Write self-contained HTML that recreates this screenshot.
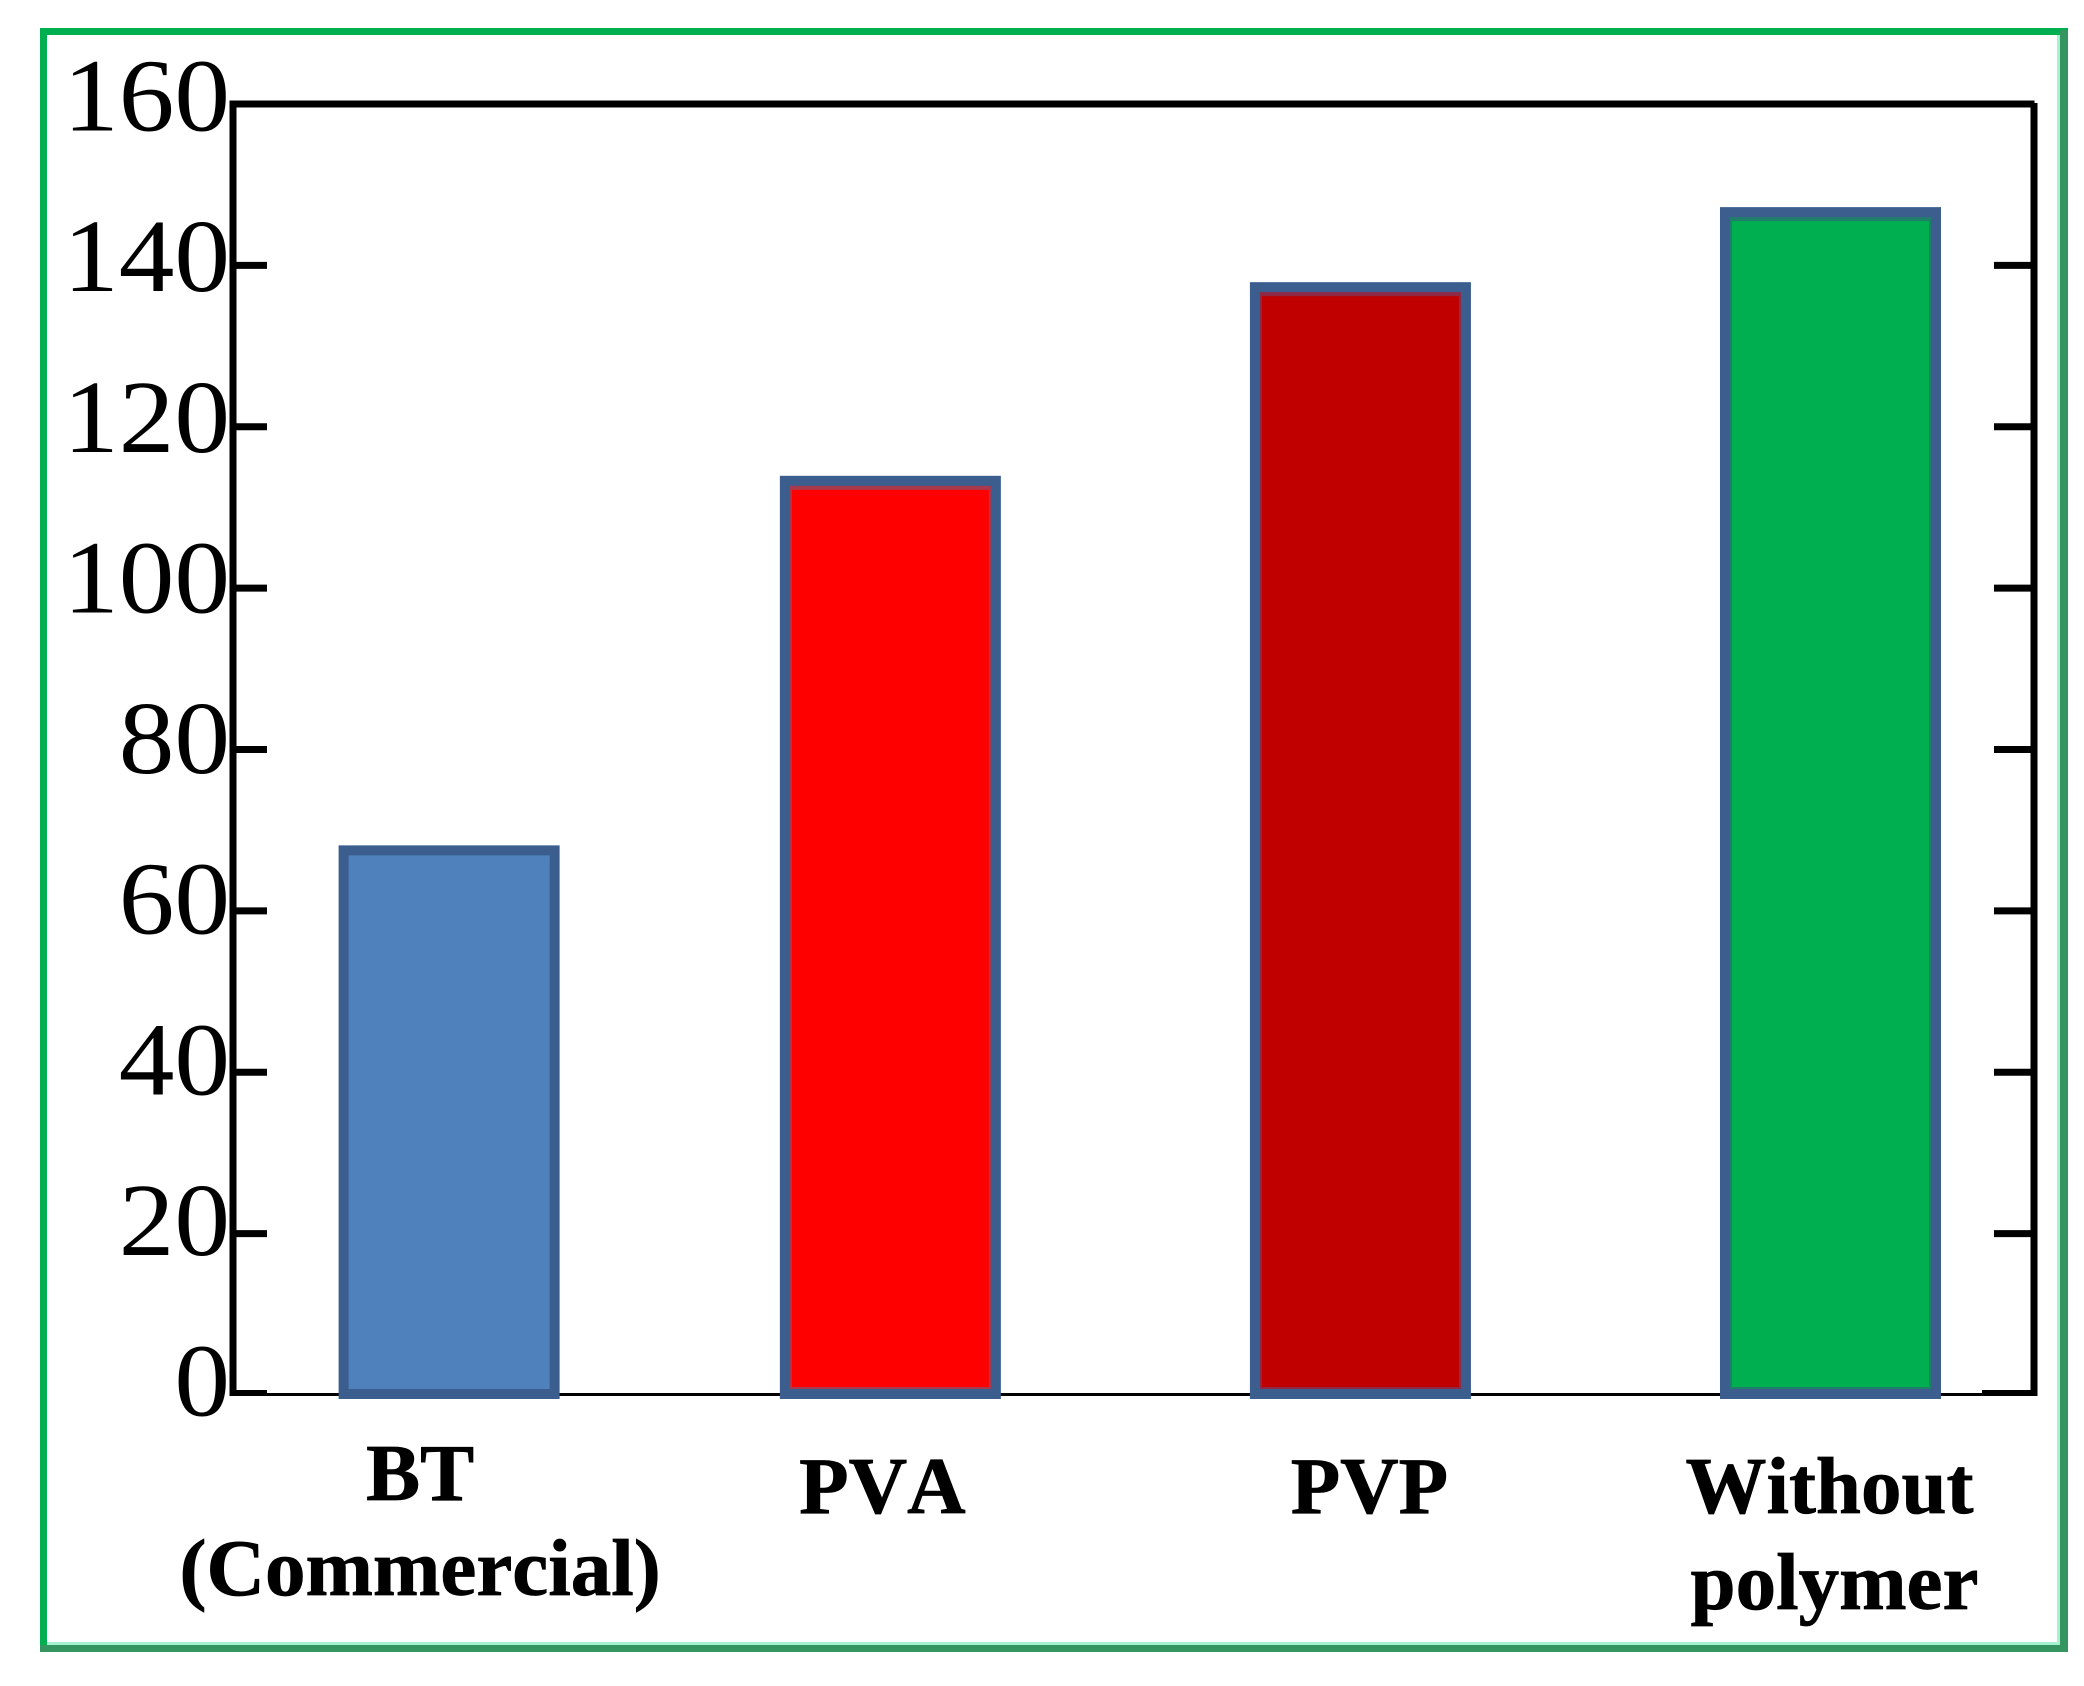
<!DOCTYPE html>
<html lang="en">
<head>
<meta charset="utf-8">
<title>Bar chart</title>
<style>
html,body{margin:0;padding:0;background:#fff;width:2084px;height:1686px;overflow:hidden}
svg{display:block}
text{font-family:"Liberation Serif","Times New Roman",serif;fill:#000;font-kerning:none}
</style>
</head>
<body>
<svg id="chart" xmlns="http://www.w3.org/2000/svg" width="2084" height="1686" viewBox="0 0 2084 1686">
  <rect x="0" y="0" width="2084" height="1686" fill="#ffffff"/>
  <g>
    <rect x="2057" y="35" width="3" height="1610" fill="#a4f2cf"/>
    <rect x="47" y="1642" width="2013" height="3" fill="#a4f2cf"/>
    <rect x="40" y="28" width="2028" height="7" fill="#00b050"/>
    <rect x="40" y="28" width="7" height="1624" fill="#00b050"/>
    <rect x="2060" y="30" width="8" height="1622" fill="#359560"/>
    <rect x="40" y="1645" width="2028" height="7" fill="#359560"/>
  </g>
  <g id="plot"></g>
</svg>
<script>
const categoryLines = [["BT", "(Commercial)"], ["PVA"], ["PVP"], ["Without", "polymer"]];
const seriesValues = [67.5, 113.3, 137.3, 146.6];
const barFills = ["#4f81bd", "#ff0000", "#c00000", "#00b050"];
const barFringes = ["#4f81bd", "#a83a50", "#8f2a45", "#1f7f6a"];
const yTickLabels = [0, 20, 40, 60, 80, 100, 120, 140, 160];

const svgNS = "http://www.w3.org/2000/svg";
const plot = document.getElementById("plot");
const plotLeft = 233, plotRight = 2034, plotTop = 104, plotBottom = 1395;
const yMax = 160;

function yScale(v) {
  return plotBottom - (v / yMax) * (plotBottom - plotTop);
}
// The source chart spaces its four categories unevenly along the axis.
function xScale(i) {
  const slots = [0.12, 0.365, 0.626, 0.887];
  return plotLeft + slots[i] * (plotRight - plotLeft);
}
function labelX(i, line) {
  const nudges = [[-29, -29], [-8], [9], [-1, 4]];
  return xScale(i) + nudges[i][line];
}
function labelBaseline(i, line) {
  const firstLine = i === 0 ? 1500 : 1513;
  const step = i === 0 ? 95 : 96;
  return firstLine + line * step;
}
function make(tag, attrs) {
  const el = document.createElementNS(svgNS, tag);
  for (const k in attrs) el.setAttribute(k, attrs[k]);
  plot.appendChild(el);
  return el;
}

const xAxis = make("rect", {x: plotLeft - 3, y: 1393, width: plotRight - plotLeft + 6, height: 3, fill: "#000"});



const topAxis = make("rect", {x: plotLeft - 3.5, y: plotTop - 3.5, width: plotRight - plotLeft + 4, height: 7, fill: "#000"});



const leftAxis = make("rect", {x: plotLeft - 3.5, y: plotTop - 3.5, width: 7, height: plotBottom - plotTop + 4.5, fill: "#000"});



const rightAxis = make("rect", {x: plotRight - 3.5, y: plotTop - 1, width: 7, height: plotBottom - plotTop + 2, fill: "#000"});



yTickLabels.forEach(function (v) {
  const y = yScale(v);
  if (v !== yMax) {
    const tickH = v === 0 ? 6 : 7;
    const tickY = v === 0 ? y - 5 : y - 3.5;
    const tickL = make("rect", {x: plotLeft, y: tickY, width: 34, height: tickH, fill: "#000"});
    
    
    const rightLen = v === 0 ? 52 : 40;
    const tickR = make("rect", {x: plotRight - rightLen, y: tickY, width: rightLen, height: tickH, fill: "#000"});
    
    
  }
  const baseline = y + 20.5 + v * 0.0375;
  const label = make("text", {
    transform: "translate(230 " + baseline + ") scale(1.07 1)",
    "text-anchor": "end",
    "font-size": 104
  });
  
  
  label.textContent = String(v);
});

const barWidth = 211, barStroke = 10;
seriesValues.forEach(function (v, i) {
  const top = yScale(v);
  const left = xScale(i) - barWidth / 2;
  const height = plotBottom - top - 1;
  const bar = make("rect", {
    x: left,
    y: top,
    width: barWidth,
    height: height,
    fill: barFringes[i],
    stroke: "#3b5e8e",
    "stroke-width": barStroke
  });
  
  
  const inner = make("rect", {
    x: left + barStroke / 2 + 2,
    y: top + barStroke / 2 + 4,
    width: barWidth - barStroke - 4,
    height: height - barStroke - 6,
    fill: barFills[i]
  });
  
  
});

categoryLines.forEach(function (lines, i) {
  lines.forEach(function (line, j) {
    const t = make("text", {
      x: labelX(i, j),
      y: labelBaseline(i, j),
      "text-anchor": "middle",
      "font-size": 81,
      "font-weight": "bold",
      stroke: "#000",
      "stroke-width": 0.8
    });
    
    
    t.textContent = line;
  });
});
</script>
</body>
</html>
